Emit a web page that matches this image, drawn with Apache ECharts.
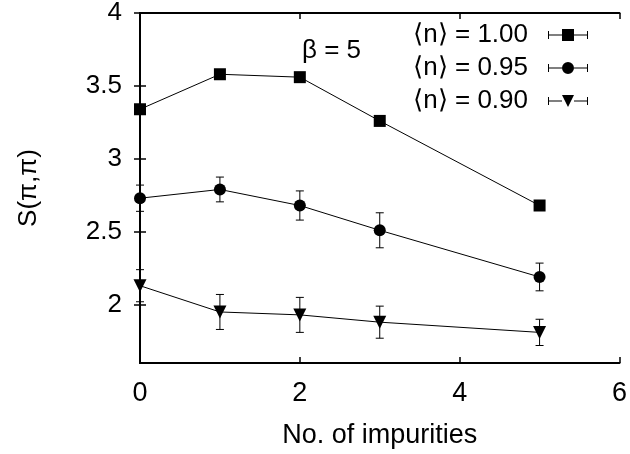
<!DOCTYPE html>
<html>
<head>
<meta charset="utf-8">
<script src="https://cdn.jsdelivr.net/npm/echarts@6/dist/echarts.min.js"></script>
<style>html,body{margin:0;padding:0;background:#fff}#c{width:630px;height:454px}</style>
</head>
<body>
<div id="c"></div>
<script>
// ---- data ----
const impurities = [0, 1, 2, 3, 5];
const s100 = [3.34, 3.58, 3.56, 3.26, 2.68];
const e100 = [0.02, 0.02, 0.02, 0.02, 0.02];
const s095 = [2.73, 2.79, 2.68, 2.51, 2.19];
const e095 = [0.09, 0.085, 0.10, 0.12, 0.095];
const s090 = [2.13, 1.95, 1.93, 1.88, 1.81];
const e090 = [0.11, 0.12, 0.12, 0.11, 0.09];
const seriesNames = ['\u27e8n\u27e9 = 1.00', '\u27e8n\u27e9 = 0.95', '\u27e8n\u27e9 = 0.90'];
const yTicks = [2, 2.5, 3, 3.5, 4];
const xLabelName = 'No. of impurities';
const yLabelName = 'S(\u03c0,\u03c0)';
const annot = '\u03b2 = 5';

const FONT = '"Liberation Sans", Arial, Helvetica, sans-serif';
const chart = echarts.init(document.getElementById('c'), null, {renderer: 'canvas'});

const lineBase = 'M0,5.5L14,5.5L14,6.5L0,6.5Z M26,5.5L40,5.5L40,6.5L26,6.5Z M0,2L1,2L1,10L0,10Z M39,2L40,2L40,10L39,10Z ';
const iconSquare = 'path://' + lineBase + 'M14,0L26,0L26,12L14,12Z';
const iconCircle = 'path://' + lineBase + 'M26,6A6,6,0,1,1,14,6A6,6,0,1,1,26,6Z';
const iconTri = 'path://' + lineBase + 'M14,0L26,0L20,12Z';

function pts(v) { return impurities.map((x, i) => [x, v[i]]); }
function errs(v, e) { return impurities.map((x, i) => [x, v[i] - e[i], v[i] + e[i]]); }
function errRender(params, api) {
  const x = api.value(0);
  const p1 = api.coord([x, api.value(1)]);
  const p2 = api.coord([x, api.value(2)]);
  const w = 4;
  const st = {stroke: '#000', lineWidth: 1};
  return {type: 'group', children: [
    {type: 'line', shape: {x1: p1[0], y1: p1[1], x2: p2[0], y2: p2[1]}, style: st},
    {type: 'line', shape: {x1: p1[0] - w, y1: p1[1], x2: p1[0] + w, y2: p1[1]}, style: st},
    {type: 'line', shape: {x1: p2[0] - w, y1: p2[1], x2: p2[0] + w, y2: p2[1]}, style: st}
  ]};
}
function lineSeries(name, v, sym, size, rot) {
  return {
    name: name, type: 'line', data: pts(v), symbol: sym, symbolSize: size, symbolRotate: rot || 0,
    showAllSymbol: true, lineStyle: {color: '#000', width: 1}, itemStyle: {color: '#000'},
    z: 3, animation: false, clip: false
  };
}
function errSeries(v, e) {
  return {type: 'custom', data: errs(v, e), renderItem: errRender, encode: {x: 0, y: [1, 2]},
    z: 2, animation: false, silent: true, clip: false};
}

const axisLineStyle = {color: '#000', width: 2};
const tickStyle = {color: '#000', width: 1.5};

chart.setOption({
  backgroundColor: '#fff',
  animation: false,
  textStyle: {fontFamily: FONT},
  grid: {left: 140, right: 9, top: 11, bottom: 91, containLabel: false},
  xAxis: [
    {type: 'value', position: 'bottom', min: 0, max: 6, interval: 2,
     name: xLabelName, nameLocation: 'middle', nameGap: 59,
     nameTextStyle: {fontSize: 27, color: '#000', fontFamily: FONT},
     axisLine: {lineStyle: axisLineStyle}, axisTick: {inside: true, length: 6, lineStyle: tickStyle},
     axisLabel: {fontSize: 27, color: '#000', margin: 17, fontFamily: FONT}, splitLine: {show: false}},
    {type: 'value', position: 'top', min: 0, max: 6, interval: 2,
     axisLine: {lineStyle: axisLineStyle}, axisTick: {inside: true, length: 6, lineStyle: tickStyle},
     axisLabel: {show: false}, splitLine: {show: false}}
  ],
  yAxis: [
    {type: 'value', position: 'left', min: 1.6, max: 4,
     name: yLabelName, nameLocation: 'middle', nameGap: 98,
     nameTextStyle: {fontSize: 26, color: '#000', fontFamily: FONT},
     axisLine: {show: true, lineStyle: axisLineStyle},
     axisTick: {show: true, inside: true, length: 6, lineStyle: tickStyle, customValues: yTicks},
     axisLabel: {fontSize: 26, color: '#000', margin: 18, fontFamily: FONT, customValues: yTicks},
     splitLine: {show: false}},
    {type: 'value', position: 'right', min: 1.6, max: 4,
     axisLine: {show: true, lineStyle: axisLineStyle},
     axisTick: {show: true, inside: true, length: 6, lineStyle: tickStyle, customValues: yTicks},
     axisLabel: {show: false, customValues: yTicks}, splitLine: {show: false}}
  ],
  legend: {
    orient: 'vertical', align: 'right', right: 42, top: 22, padding: 0,
    itemWidth: 40, itemHeight: 12, itemGap: 7, selectedMode: false,
    textStyle: {fontSize: 26, color: '#000', fontFamily: FONT, lineHeight: 26, padding: [0, 15, 0, 0]},
    data: [
      {name: seriesNames[0], icon: iconSquare},
      {name: seriesNames[1], icon: iconCircle},
      {name: seriesNames[2], icon: iconTri}
    ]
  },
  graphic: [
    {type: 'text', x: 302, y: 51, style: {text: annot, fontSize: 26, fill: '#000', fontFamily: FONT, verticalAlign: 'middle', align: 'left'}}
  ],
  series: [
    errSeries(s100, e100),
    errSeries(s095, e095),
    errSeries(s090, e090),
    lineSeries(seriesNames[0], s100, 'rect', 12),
    lineSeries(seriesNames[1], s095, 'circle', 12),
    lineSeries(seriesNames[2], s090, 'triangle', 13, 180)
  ]
});
</script>
</body>
</html>
